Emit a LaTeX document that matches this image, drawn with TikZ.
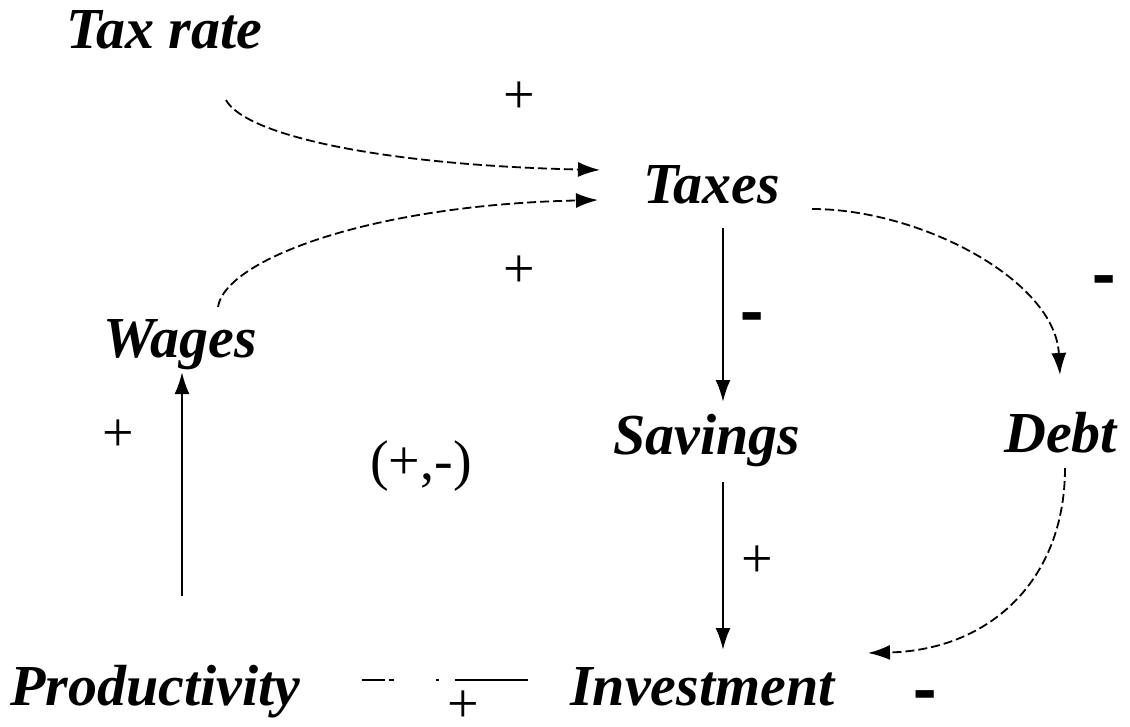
\documentclass[tikz,border=0pt]{standalone}
\usepackage{fontspec}
\setmainfont{Liberation Serif}
\usetikzlibrary{arrows.meta,calc}
\begin{document}
\begin{tikzpicture}[x=1pt,y=-1pt,
  var/.style={inner sep=0pt, anchor=base west, font=\fontsize{58}{62}\selectfont\bfseries\itshape},
  sgn/.style={inner sep=0pt, font=\fontsize{56}{60}\selectfont},
  neg/.style={inner sep=0pt, font=\fontsize{56}{60}\selectfont\bfseries},
  solidarr/.style={line width=2.4pt, -{Latex[length=22pt,width=15pt]}},
  curvearr/.style={line width=1.8pt, dash pattern=on 9pt off 4pt, -{Latex[length=22pt,width=15pt]}},
]
\useasboundingbox (0,0) rectangle (1130,726);

% variables
\node[var] (taxrate) at (66,48) {Tax rate};
\node[var] (taxes) at (643,203) {Taxes};
\node[var] (wages) at (103,357) {Wages};
\node[var] (savings) at (613,454) {Savings};
\node[var] (debt) at (1004,452) {Debt};
\node[var] (prod) at (10,705) {Productivity};
\node[var] (inv) at (570,705) {Investment};
\node[sgn, anchor=base west] (pm) at (370,479) {(+,-)};

% sign labels
\node[sgn] (p1) at (519,98) {+};
\node[sgn] (p2) at (519,272) {+};
\node[sgn] (p3) at (118,436) {+};
\node[sgn] (p4) at (757,562) {+};
\node[sgn] (p5) at (463,707) {+};
\node[neg] (m1) at (752,325) {\scalebox{1.25}[1.6]{-}};
\node[neg] (m2) at (1104,288) {\scalebox{1.25}[1.6]{-}};
\node[neg] (m3) at (925,703) {\scalebox{1.25}[1.6]{-}};

% connectors
\draw[solidarr] ($(prod.base west)+(172,-109)$) -- ($(wages.base west)+(79,15)$);
\draw[solidarr] ($(taxes.base west)+(80,25)$) -- ($(savings.base west)+(110,-52)$);
\draw[solidarr] ($(savings.base west)+(110,28)$) -- ($(inv.base west)+(153,-55)$);

\draw[curvearr] ($(taxrate.base west)+(160,52)$) .. controls ($(taxrate.base west)+(179,87)$) and ($(taxes.base west)+(-263,-38)$) .. ($(taxes.base west)+(-43,-33)$);
\draw[curvearr] ($(wages.base west)+(115,-50)$) .. controls ($(wages.base west)+(122,-97)$) and ($(taxes.base west)+(-273,2)$) .. ($(taxes.base west)+(-45,-3)$);
\draw[curvearr] ($(taxes.base west)+(169,6)$) .. controls ($(taxes.base west)+(277,6)$) and ($(debt.base west)+(51,-172)$) .. ($(debt.base west)+(56,-77)$);
\draw[curvearr] ($(debt.base west)+(61,16)$) .. controls ($(debt.base west)+(61,128)$) and ($(inv.base west)+(420,-55)$) .. ($(inv.base west)+(298,-52)$);

\draw[line width=2.6pt, dash pattern=on 23pt off 4pt on 5pt off 42pt on 3pt off 16pt on 73pt off 200pt]
  ($(prod.base west)+(352,-25)$) -- ($(inv.base west)+(-41,-25)$);
\end{tikzpicture}
\end{document}
